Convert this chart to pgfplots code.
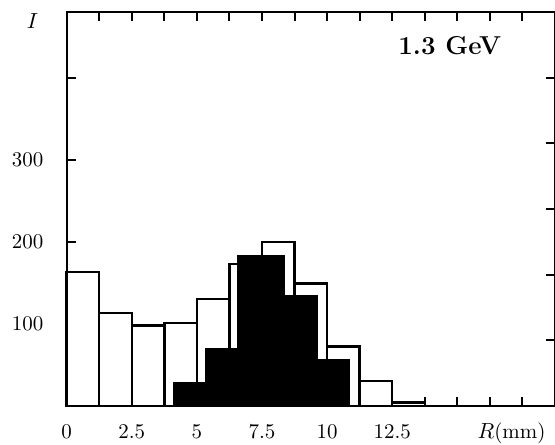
\documentclass[border=0pt]{standalone}
\usepackage{pgfplots}
\pgfplotsset{compat=1.18}
\begin{document}
\begin{tikzpicture}
\path[use as bounding box] (-33.35bp,-19.65bp) rectangle (244.15bp,202.85bp);
\begin{axis}[
    at={(0,0)}, anchor=south west,
    scale only axis, width=244.15bp, height=196.7bp,
    xmin=0, xmax=18.75, ymin=0, ymax=480,
    clip=false,
    xtick={0,1.25,2.5,3.75,5,6.25,7.5,8.75,10,11.25,12.5,13.75,15,16.25,17.5},
    xticklabels={0,,2.5,,5,,7.5,,10,,12.5,,,,},
    ytick={100,200,300,400},
    yticklabels={100,200,300,},
    ytick pos=left,
    tick align=inside,
    major tick length=4.5bp,
    every tick/.style={black, line width=1bp},
    axis line style={line width=1bp},
    every tick label/.append style={font=\fontsize{10.5}{12}\selectfont},
    xticklabel style={anchor=base, yshift=-16.3bp},
    yticklabel style={anchor=east, xshift=-8.2bp},
]
% hollow histogram
\addplot[ybar interval, draw=black, fill=white, line width=1.2bp] coordinates {
    (0,163) (1.25,113) (2.5,98) (3.75,101) (5,130) (6.25,173)
    (7.5,200) (8.75,149) (10,72) (11.25,30) (12.5,4) (13.75,4)
};
% filled histogram
\addplot[ybar interval, draw=black, fill=black, line width=1.2bp] coordinates {
    (4.13,27) (5.35,69) (6.6,182) (8.35,134) (9.6,56) (10.85,56)
};
\node[anchor=base, font=\bfseries\fontsize{13}{15}\selectfont] at (axis cs:14.71,428) {1.3 GeV};
\node[anchor=base, font=\fontsize{10.5}{12}\selectfont, yshift=-16.3bp] at (axis cs:17.08,0) {$R$(mm)};
\node[anchor=base east, font=\fontsize{10.5}{12}\selectfont, xshift=-10.8bp] at (axis cs:0,460) {$I$};
\end{axis}
% right-hand ticks on their own scale
\begin{axis}[
    at={(0,0)}, anchor=south west,
    scale only axis, width=244.15bp, height=196.7bp,
    xmin=0, xmax=18.75, ymin=0, ymax=480,
    hide x axis,
    axis y line*=right,
    y axis line style={-},
    ytick={80,160,240,320,400},
    yticklabels={},
    tick align=inside,
    major tick length=4.5bp,
    every tick/.style={black, line width=1bp},
    axis line style={line width=1bp},
]
\end{axis}
\end{tikzpicture}
\end{document}
